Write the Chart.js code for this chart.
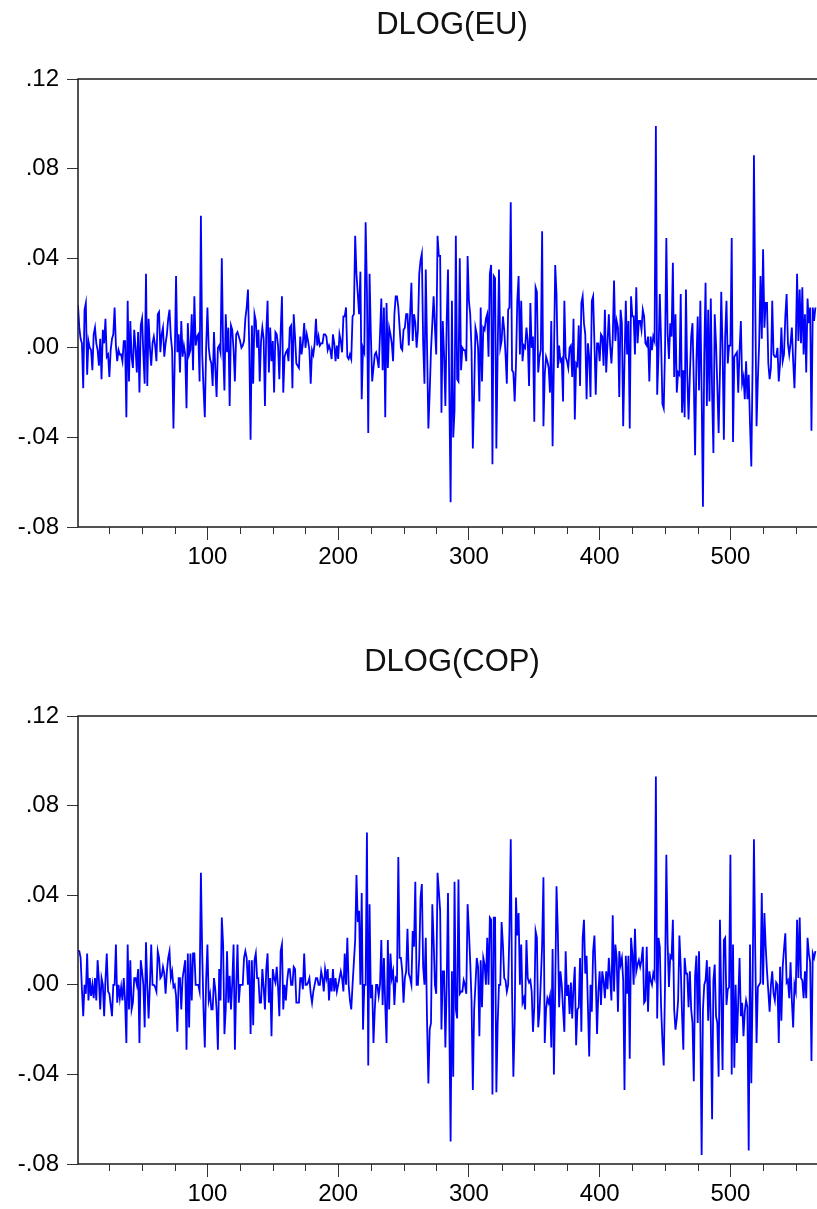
<!DOCTYPE html>
<html>
<head>
<meta charset="utf-8">
<title>DLOG(EU) / DLOG(COP)</title>
<script src="https://cdn.jsdelivr.net/npm/chart.js@4.4.1/dist/chart.umd.min.js"></script>
<style>
    html, body { margin: 0; padding: 0; background: #fff; overflow: hidden; }
    .box { position: absolute; left: 0; width: 822px; height: 572px; }
    #boxEu { top: 0; }
    #boxCop { top: 637px; }
</style>
</head>
<body>
<div class="box" id="boxEu"><canvas id="euChart" width="822" height="572"></canvas></div>
<div class="box" id="boxCop"><canvas id="copChart" width="822" height="572"></canvas></div>
<script>
// DLOG(EU), observations 1..565
const euValues = [
    .019,.009,.004,.002,-.018,.017,.020,-.012,.003,.000,
    -.001,-.010,.006,.009,.002,-.001,-.008,.004,-.014,.008,
    .002,.013,-.004,-.003,-.013,-.001,.004,.006,.018,.001,
    -.006,-.001,-.003,-.003,-.006,.003,.003,-.031,.021,-.015,
    .012,-.004,-.009,.008,.000,-.011,.007,-.020,.010,.013,
    -.003,-.016,.033,-.017,.013,.000,-.008,.002,.005,.001,
    -.006,.015,.016,-.002,.006,.009,-.004,.002,.006,.013,
    .017,.005,-.001,-.036,-.005,.032,-.002,.006,-.011,.012,
    -.004,.001,-.003,-.027,.011,-.003,-.001,.015,-.010,.023,
    .001,.005,.006,-.015,.059,-.003,-.018,-.031,.000,.018,
    .000,-.005,-.007,-.017,.007,-.009,-.022,.000,.001,-.002,
    .040,-.001,-.019,.015,-.002,.009,-.026,.010,.008,-.001,
    -.015,.006,.007,.005,.003,.000,.001,.003,.013,.018,
    .026,.000,-.041,.010,-.016,.015,.012,.000,.008,-.015,
    .003,.009,.004,-.026,.007,.021,-.011,.009,-.006,.003,
    -.020,.007,.006,.001,
    -.014,.007,.023,-.020,-.004,-.002,-.001,-.006,.009,.010,
    -.018,.015,.005,-.007,-.008,-.009,.005,-.003,.002,.011,
    .000,.006,.003,-.001,-.016,-.001,-.003,.002,.013,.001,
    .005,.001,.002,.002,.006,.006,.005,-.001,.001,-.001,
    -.005,.006,.002,-.006,.001,-.005,.006,.003,-.002,.014,
    .014,.018,-.004,-.005,-.003,-.005,.014,.015,.050,.033,
    .024,.015,.034,-.023,.000,-.002,.056,.026,-.038,.033,
    .006,-.015,-.009,-.003,-.002,-.005,-.009,.006,.022,-.010,
    .018,-.031,.020,-.009,.009,.006,.002,-.006,.015,.023,
    .023,.018,.009,.000,-.001,.008,.009,.015,.015,.001,
    .015,.029,.003,.015,.011,.000,.008,.033,.039,.042,
    .002,-.016,.035,.000,-.036,-.020,-.001,.011,.023,.009,
    -.003,.050,.041,.041,-.029,.012,-.003,-.026,.012,.035,
    -.020,-.069,.021,-.040,-.028,.050,-.014,-.015,.040,-.010,
    .000,-.001,-.001,-.006,.041,.021,.015,-.001,-.045,-.020,
    .009,.006,.000,-.024,.018,-.015,.009,.008,.013,.015,
    -.004,.033,.037,-.052,.032,.031,-.045,-.001,.035,.000,
    .003,.014,.008,-.003,-.016,.017,.018,.065,-.010,-.011,
    -.024,-.007,.021,.032,-.003,.021,-.006,.001,.000,.009,
    .003,-.017,.020,.000,.005,-.033,.027,.025,-.011,
    -.004,-.001,.052,-.035,-.012,-.004,-.006,-.009,-.020,.012,
    -.044,-.006,.037,.024,-.009,.001,-.006,-.005,-.024,.021,
    -.004,-.006,-.009,.000,.001,-.013,.013,-.032,-.007,-.008,
    .010,-.017,.020,.023,.011,.006,-.023,.002,-.004,-.022,
    .021,.023,.002,-.021,.002,.002,-.006,.006,.005,-.008,
    .017,-.011,.002,.015,.001,-.007,.004,.030,.003,.012,
    .009,-.022,.017,.011,-.035,-.006,.021,-.003,.012,-.036,
    .023,.014,.014,-.003,.027,.002,.012,.012,.008,.017,
    .014,.002,.001,.005,-.015,.005,-.001,.005,.003,.099,
    -.021,-.003,.024,.003,-.025,-.027,-.001,.049,.006,-.005,
    .011,.005,.038,-.013,.015,-.020,-.011,-.012,.024,-.029,
    -.010,-.031,.026,-.012,-.032,-.012,.005,.011,-.015,-.048,
    -.006,.014,-.019,.021,-.020,-.071,-.003,.029,-.026,.017,
    -.024,.022,-.020,-.047,.015,.002,-.017,-.038,-.011,.025,
    .000,-.041,.005,.021,-.007,.001,.001,.049,-.042,-.004,
    -.003,-.002,-.020,-.001,.012,-.016,-.013,-.023,-.006,-.023,
    -.012,-.034,-.053,-.006,.086,.021,-.035,-.014,.002,.032,
    .004,.044,.009,.020,.020,-.007,-.014,-.009,.021,-.003,
    -.004,-.004,.000,-.015,-.007,.009,-.006,-.003,.014,.024,
    .002,-.003,.002,.009,-.006,-.018,.002,.033,.003,.026,
    .002,.027,-.003,.015,-.011,.022,.011,.018,-.037,.018,
    .012,.018
];

// DLOG(COP), observations 1..565
const copValues = [
    .015,.015,.012,-.002,-.014,.000,-.004,.014,-.007,.003,
    -.005,.000,-.006,.003,-.007,.011,.002,-.011,.003,.000,
    -.014,.002,.014,-.003,-.004,-.009,-.014,.000,.000,.018,
    -.008,.000,-.006,-.001,-.007,.003,-.007,-.026,.018,-.011,
    .011,-.011,-.008,.003,.003,.000,.007,-.026,.011,.006,
    .000,-.019,.019,.000,-.015,.000,.018,.000,.000,-.001,
    -.003,.015,.012,.003,.004,.008,.005,-.004,.006,.012,
    .015,.003,.006,-.001,.000,-.005,-.021,.003,.003,-.011,
    .003,.007,.011,-.029,.014,-.019,.014,-.007,.014,.014,
    .000,.000,.000,-.003,.050,.014,-.011,-.028,.002,.018,
    -.007,-.004,-.011,-.011,.003,-.002,-.011,-.029,.007,-.007,
    .030,.018,-.022,-.011,.015,-.008,.004,-.011,.001,.018,
    -.029,-.001,.018,-.008,.000,.000,.000,.012,.015,.012,
    .000,.011,-.022,.011,-.018,.011,.014,.003,.003,-.008,
    -.008,.007,-.001,-.011,.007,.014,-.008,.003,-.023,.007,
    .003,.001,.008,-.001,
    -.014,.015,.018,-.011,.000,-.007,.002,.007,.007,.000,
    .000,.008,.007,-.008,-.008,-.008,.003,.003,-.002,.014,
    .000,.000,.001,.003,-.004,-.008,-.003,.000,.003,.003,
    .000,.000,.006,.003,-.003,.007,.003,.007,-.007,.003,
    -.003,.007,-.003,.003,-.003,.000,.003,.006,.003,-.003,
    .014,.000,.021,.000,-.007,-.011,.000,.010,.020,.049,
    .028,.033,.000,.041,-.020,.000,.000,.068,-.036,.036,
    -.006,.000,-.026,-.011,.000,.000,-.005,.000,.020,-.009,
    .012,-.009,-.026,.020,-.011,.014,.003,.006,-.009,.003,
    .002,.057,.012,.012,.006,-.008,.003,.006,.025,.005,
    .003,.000,.024,.017,.046,.000,.000,.012,.039,.045,
    .008,.000,.021,-.017,-.044,-.020,-.017,.036,.020,.000,
    -.004,.050,.042,.033,-.020,.006,.006,-.028,.000,.041,
    -.017,-.070,.006,-.041,.046,-.011,-.015,.047,-.004,-.003,
    -.003,.002,.000,-.004,.036,.024,.010,-.007,-.047,-.011,
    .000,.012,.008,-.023,.011,-.010,.012,.009,.000,.021,
    .000,.030,.029,-.049,.030,.030,-.048,-.017,.000,.000,
    .028,.018,.003,.002,-.003,.000,.024,.065,-.003,-.041,
    -.017,.039,.022,.032,.000,.018,-.008,-.006,-.011,.020,
    .003,.001,.002,-.003,-.021,-.010,.024,.021,-.019,
    -.012,.002,.018,.048,-.026,-.011,-.006,-.008,-.005,-.028,
    .016,-.040,-.003,.044,.024,-.010,.006,.000,-.011,-.021,
    .015,-.005,.000,-.013,.001,-.015,-.001,.008,-.027,-.011,
    -.010,.012,-.021,.021,.029,.005,.013,-.009,-.032,.000,
    -.012,.015,.022,.003,-.022,-.003,.006,-.009,.006,.002,
    -.006,.006,-.002,.012,.003,-.007,.031,-.003,.018,.012,
    -.012,.015,.009,.012,.002,-.047,.013,-.004,.013,-.033,
    .021,.014,.000,.025,.006,.009,.011,.008,.011,.017,
    -.008,-.007,.017,-.012,.006,.002,.000,.005,.003,.093,
    -.015,.021,.017,-.010,-.025,-.036,.000,.058,.018,-.001,
    .013,.012,.029,-.011,-.020,-.015,-.007,.022,.008,-.013,
    -.029,.012,.005,.005,-.010,.006,-.011,-.017,-.043,.004,
    .013,-.017,.015,-.017,-.076,-.011,.000,.002,.011,-.016,
    .008,-.017,-.060,.002,.009,-.014,-.017,-.041,.029,-.005,
    -.038,.020,.021,-.009,-.002,-.001,.058,-.040,.018,-.037,
    .000,-.026,-.007,.012,-.014,-.008,-.023,-.012,-.007,-.010,
    -.074,.018,-.044,.000,.065,.015,-.026,-.001,.000,.001,
    .041,.000,.032,.017,.006,-.003,-.012,.000,.006,-.004,
    -.007,.001,.000,-.026,.008,-.016,.008,.016,.023,.001,
    .002,-.006,.010,-.007,-.019,.000,-.003,.029,.003,.030,
    .003,.002,-.006,.006,-.006,.021,.014,.010,-.034,.014,
    .012,.015
];

// observation numbers (categories)
const observations = euValues.map((v, i) => i + 1);

// axis ticks
const xTicks = [25, 50, 75, 100, 125, 150, 175, 200, 225, 250, 275, 300, 325, 350, 375, 400, 425, 450, 475, 500, 525, 550];
const xMajor = [100, 200, 300, 400, 500];
const yTicks = [-0.08, -0.04, 0, 0.04, 0.08, 0.12];
const yTickLabels = ['-.08', '-.04', '.00', '.04', '.08', '.12'];

const FONT = '"Liberation Sans", Arial, Helvetica, sans-serif';

// box, short minor ticks and the title above the plot
const framePlugin = {
    id: 'frame',
    afterDraw(chart, args, opts) {
        const { ctx, chartArea: a } = chart;
        const x = chart.scales.x;
        ctx.save();
        ctx.strokeStyle = '#1a1a1a';
        ctx.lineWidth = 1.5;
        ctx.strokeRect(a.left, a.top, a.right - a.left, a.bottom - a.top);

        ctx.lineWidth = 1;
        ctx.strokeStyle = '#333';
        xTicks.filter(v => !xMajor.includes(v)).forEach(v => {
            const px = Math.round(x.getPixelForValue(v)) + 0.5;
            ctx.beginPath();
            ctx.moveTo(px, a.bottom);
            ctx.lineTo(px, a.bottom + 7);
            ctx.stroke();
        });

        ctx.font = '31px ' + FONT;
        ctx.fillStyle = '#111';
        ctx.textAlign = 'center';
        ctx.textBaseline = 'alphabetic';
        ctx.fillText(opts.text, (a.left + a.right) / 2 + 4, 34);
        ctx.restore();
    }
};

function makeChart(canvasId, title, values) {
    return new Chart(document.getElementById(canvasId), {
        type: 'line',
        data: {
            labels: observations,
            datasets: [{
                label: title,
                data: values,
                borderColor: '#0000ff',
                borderWidth: 1.8,
                pointRadius: 0,
                tension: 0,
                fill: false
            }]
        },
        options: {
            responsive: false,
            animation: false,
            layout: { padding: { top: 79, right: 4, left: 0, bottom: 0 } },
            plugins: {
                legend: { display: false },
                tooltip: { enabled: false },
                frame: { text: title }
            },
            scales: {
                x: {
                    type: 'linear',
                    min: 1,
                    max: 567,
                    afterBuildTicks: scale => { scale.ticks = xTicks.map(v => ({ value: v })); },
                    afterFit: scale => { scale.height = 45; },
                    border: { display: false },
                    grid: {
                        drawOnChartArea: false,
                        tickLength: 13,
                        tickColor: c => (c.tick && xMajor.includes(c.tick.value)) ? '#333' : 'rgba(0,0,0,0)'
                    },
                    ticks: {
                        autoSkip: false,
                        maxRotation: 0,
                        padding: 3,
                        color: '#000',
                        font: { family: FONT, size: 24 },
                        callback: v => xMajor.includes(v) ? String(v) : ''
                    }
                },
                y: {
                    min: -0.08,
                    max: 0.12,
                    afterBuildTicks: scale => { scale.ticks = yTicks.map(v => ({ value: v })); },
                    afterFit: scale => { scale.width = 78; },
                    border: { display: false },
                    grid: {
                        drawOnChartArea: false,
                        tickLength: 11,
                        tickColor: '#333'
                    },
                    ticks: {
                        padding: 8,
                        color: '#000',
                        font: { family: FONT, size: 24 },
                        callback: (v, i) => yTickLabels[i]
                    }
                }
            }
        },
        plugins: [framePlugin]
    });
}

document.addEventListener('DOMContentLoaded', function() {
    makeChart('euChart', 'DLOG(EU)', euValues);
    makeChart('copChart', 'DLOG(COP)', copValues);
});
</script>
</body>
</html>
